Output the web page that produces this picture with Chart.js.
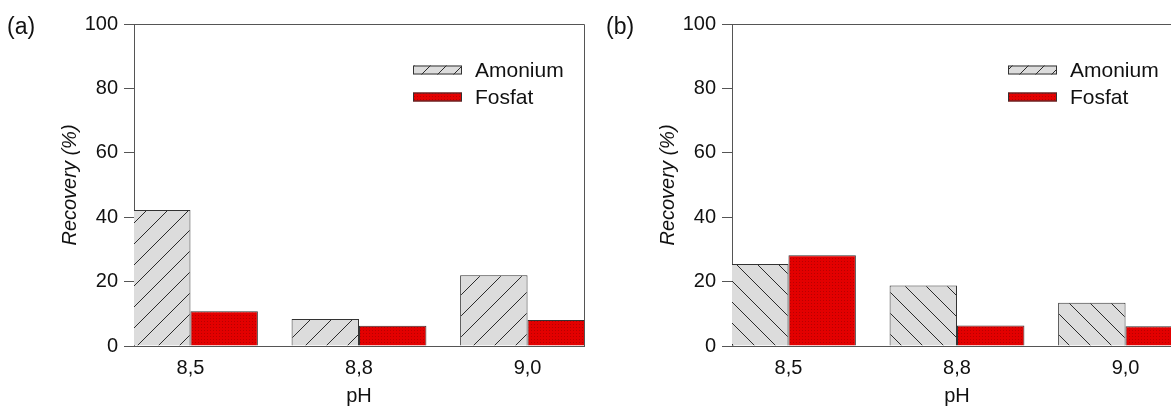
<!DOCTYPE html>
<html><head><meta charset="utf-8">
<script src="https://cdn.jsdelivr.net/npm/chart.js@4"></script>
<style>
html,body{margin:0;padding:0;width:1171px;height:408px;overflow:hidden;background:#fff;}
.wrap{position:absolute;top:0;width:600px;height:408px;}
canvas{display:block;}
.lbl{position:absolute;font-family:"Liberation Sans",Arial,sans-serif;font-size:23px;color:#111;top:13px;line-height:1.15;}
</style></head><body>
<div class="wrap" style="left:0"><canvas id="ca" width="600" height="408"></canvas></div>
<div class="wrap" style="left:598px"><canvas id="cb" width="600" height="408"></canvas></div>
<div class="lbl" style="left:7px">(a)</div>
<div class="lbl" style="left:606px">(b)</div>
<script>
const phLabels = ['8,5', '8,8', '9,0'];
const seriesNames = ['Amonium', 'Fosfat'];
const amoniumA = [42.2, 8.4, 22.0];
const fosfatA = [10.8, 6.3, 8.1];
const amoniumB = [25.5, 18.8, 13.4];
const fosfatB = [28.2, 6.4, 6.1];
const yTicks = [0, 20, 40, 60, 80, 100];
const yTitle = 'Recovery (%)';
const xTitle = 'pH';

const FONT = '"Liberation Sans", Arial, sans-serif';

function hatch(dir, s) {
  const c = document.createElement('canvas');
  c.width = s; c.height = s;
  const g = c.getContext('2d');
  g.fillStyle = '#dcdcdc';
  g.fillRect(0, 0, s, s);
  g.strokeStyle = '#2a2a2a';
  g.lineWidth = 1;
  g.beginPath();
  for (const k of [-1, 0, 1]) {
    if (dir > 0) { g.moveTo(k * s, s); g.lineTo(k * s + s, 0); }
    else { g.moveTo(k * s, 0); g.lineTo(k * s + s, s); }
  }
  g.stroke();
  return g.createPattern(c, 'repeat');
}
function dots() {
  const c = document.createElement('canvas');
  c.width = 3; c.height = 3;
  const g = c.getContext('2d');
  g.fillStyle = '#e30000';
  g.fillRect(0, 0, 3, 3);
  g.fillStyle = '#b80000';
  g.fillRect(0, 0, 1, 1);
  return g.createPattern(c, 'repeat');
}

const legendFills = [hatch(1, 16), dots()];

const boxLegend = {
  id: 'boxLegend',
  afterDraw(chart, args, opts) {
    const ctx = chart.ctx;
    ctx.save();
    chart.data.datasets.forEach((ds, i) => {
      const y = opts.y[i];
      ctx.fillStyle = legendFills[i];
      ctx.fillRect(opts.x, y - 4.5, 49, 9);
      ctx.strokeStyle = '#333';
      ctx.lineWidth = 1;
      ctx.strokeRect(opts.x + 0.5, y - 4, 48, 8);
      ctx.fillStyle = '#111';
      ctx.font = '21px ' + FONT;
      ctx.textBaseline = 'middle';
      ctx.textAlign = 'left';
      ctx.fillText(ds.label, opts.x + 62, y + 1);
    });
    ctx.restore();
  }
};
const frame = {
  id: 'frame',
  afterDatasetsDraw(chart) {
    const a = chart.chartArea, ctx = chart.ctx;
    ctx.save();
    ctx.strokeStyle = '#555';
    ctx.lineWidth = 1;
    ctx.beginPath();
    ctx.moveTo(Math.round(a.left) + 0.5, Math.round(a.top) + 0.5);
    ctx.lineTo(Math.round(a.right) + 0.5, Math.round(a.top) + 0.5);
    ctx.lineTo(Math.round(a.right) + 0.5, Math.round(a.bottom) + 0.5);
    ctx.stroke();
    ctx.restore();
  }
};

function make(id, amon, fosf, dir, legendX) {
  return new Chart(document.getElementById(id), {
    type: 'bar',
    data: {
      datasets: [
        { label: seriesNames[0], data: amon.map((v, i) => ({ x: i, y: v })),
          backgroundColor: hatch(dir, 21), borderColor: '#333', borderWidth: 1,
          categoryPercentage: 0.8, barPercentage: 1.0 },
        { label: seriesNames[1], data: fosf.map((v, i) => ({ x: i, y: v })),
          backgroundColor: dots(), borderColor: '#333', borderWidth: 1,
          categoryPercentage: 0.8, barPercentage: 1.0 }
      ]
    },
    plugins: [boxLegend, frame],
    options: {
      responsive: false,
      animation: false,
      layout: { padding: { left: 50, right: 16, top: 24, bottom: 0 } },
      plugins: {
        legend: { display: false },
        tooltip: { enabled: false },
        boxLegend: { x: legendX, y: [70, 97] }
      },
      scales: {
        x: {
          type: 'linear', min: -0.335, max: 2.335, offset: false,
          afterBuildTicks: s => { s.ticks = phLabels.map((_, i) => ({ value: i })); },
          afterFit: s => { s.height = 408 - 346; },
          grid: { display: false, drawTicks: false },
          border: { display: true, color: '#555', width: 1 },
          ticks: { callback: v => phLabels[v], font: { family: FONT, size: 20 }, color: '#111',
                   padding: 10, maxRotation: 0, autoSkip: false },
          title: { display: true, text: xTitle, font: { family: FONT, size: 20 }, color: '#111',
                   padding: { top: 0, bottom: 0 } }
        },
        y: {
          min: yTicks[0], max: yTicks[yTicks.length - 1],
          afterFit: s => { s.width = 84; },
          ticks: { stepSize: yTicks[1] - yTicks[0], font: { family: FONT, size: 20 }, color: '#111', padding: 6 },
          grid: { drawOnChartArea: false, drawTicks: true, tickLength: 10, color: '#555' },
          border: { display: true, color: '#555', width: 1 },
          title: { display: true, text: yTitle, font: { family: FONT, size: 20, style: 'italic' }, color: '#111',
                   padding: { top: 8, bottom: 0 } }
        }
      }
    }
  });
}

make('ca', amoniumA, fosfatA, 1, 413);
make('cb', amoniumB, fosfatB, -1, 410);
</script>
</body></html>
